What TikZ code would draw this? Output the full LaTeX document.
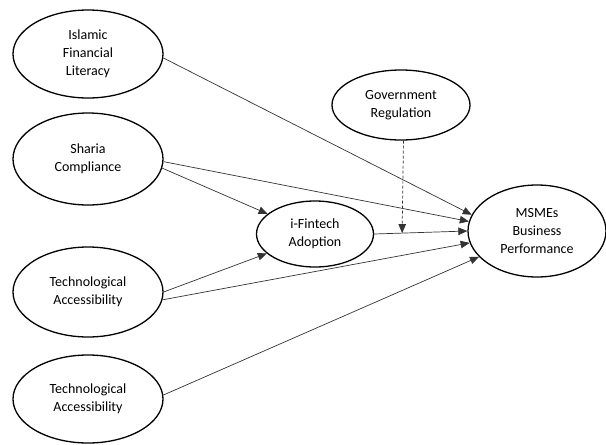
\documentclass[tikz,border=0pt]{standalone}
\usepackage{fontspec}
\setmainfont{Carlito}
\usetikzlibrary{shapes.geometric,arrows.meta,calc}
\begin{document}
\begin{tikzpicture}[x=1pt,y=-1pt,
  var/.style={ellipse,draw=black,line width=1.3pt,inner sep=0pt,align=center,
    font=\fontsize{14}{18}\selectfont,text=black},
  path/.style={draw=black!80,line width=0.7pt,-{Triangle[length=9pt,width=7.5pt]}},
  moder/.style={draw=black!80,line width=0.7pt,dash pattern=on 3pt off 2pt,-{Triangle[length=9pt,width=7.5pt]}}]
\useasboundingbox (0,0) rectangle (606,445);
\node[var,minimum width=150pt,minimum height=88pt] (isl) at (88,54) {Islamic\\Financial\\Literacy};
\node[var,minimum width=150pt,minimum height=92pt] (sha) at (88,159) {Sharia\\Compliance};
\node[var,minimum width=150pt,minimum height=90pt] (tec) at (88,292) {Technological\\Accessibility};
\node[var,minimum width=150pt,minimum height=88pt] (tecb) at (88,399) {Technological\\Accessibility};
\node[var,minimum width=138pt,minimum height=70pt] (gov) at (401,105) {Government\\Regulation};
\node[var,minimum width=117pt,minimum height=66pt] (ifin) at (315,234) {i-Fintech\\Adoption};
\node[var,minimum width=138pt,minimum height=92pt] (msme) at (537,231) {MSMEs\\Business\\Performance};
\draw[path] (isl.-3) -- (msme.166);
\draw[path] (sha.-2) -- (msme.172);
\draw[path] (sha.-7) -- (ifin.157);
\draw[path] (ifin.east) -- coordinate[pos=0.3] (mod) (msme.180);
\draw[path] (tec.0) -- (ifin.202);
\draw[path] (tec.-6) -- (msme.190);
\draw[path] (tecb.3) -- (msme.204);
\draw[moder] (gov.-86) -- (mod);
\end{tikzpicture}
\end{document}
